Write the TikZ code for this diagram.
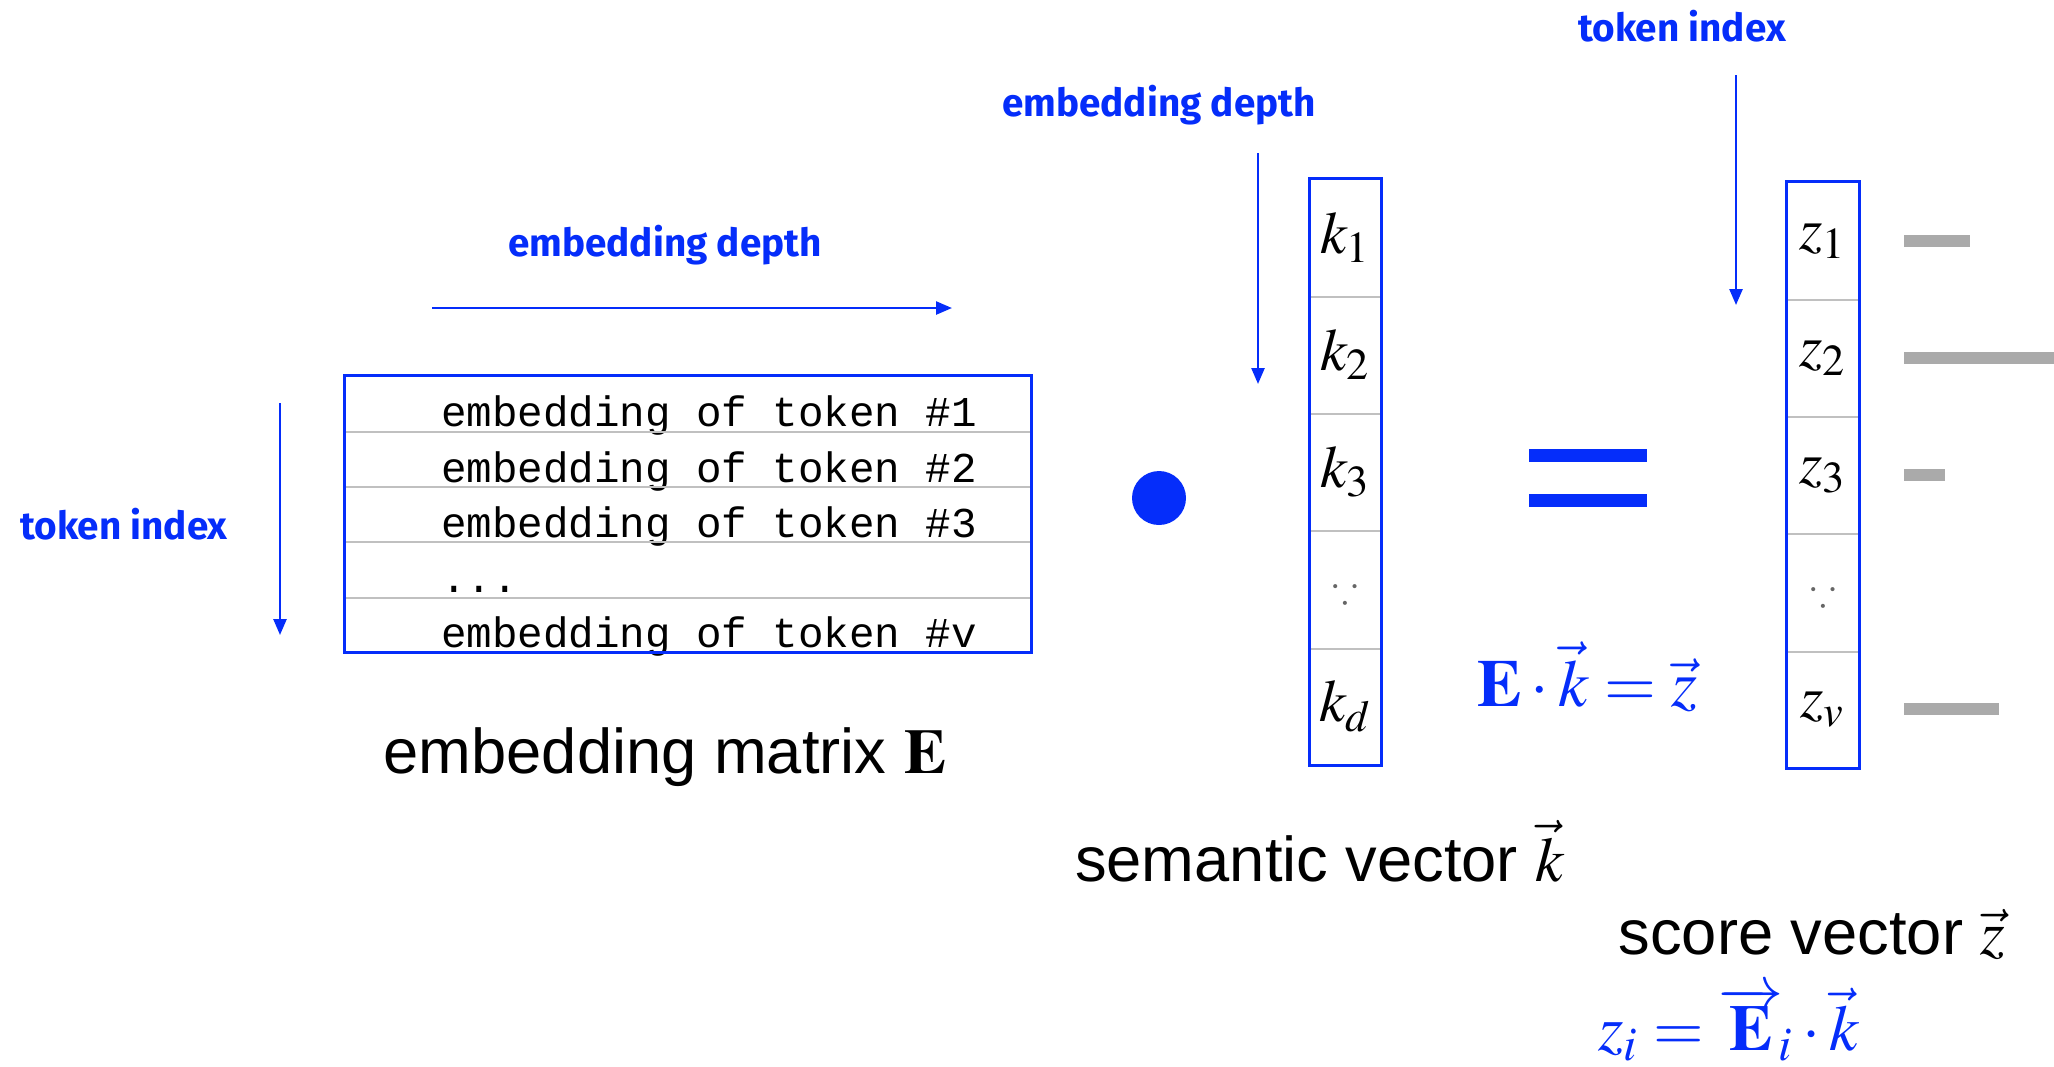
\documentclass[tikz,border=0pt]{standalone}
\usepackage{amssymb}
\usepackage{mathptmx}
\usepackage[no-math]{fontspec}
\setmainfont{Liberation Sans}
\newfontfamily\monofont{Liberation Mono}
\newfontfamily\handfont{Fira Sans}
\usetikzlibrary{arrows.meta, positioning, calc}
\definecolor{cBlue}{RGB}{5,45,250}
\definecolor{cBar}{RGB}{170,170,170}
\definecolor{cRule}{RGB}{192,192,192}
\newcommand{\mdots}{...}
\newcommand{\celldots}{{\color{black!60}\fontsize{11}{12}\selectfont$\because$}}
\tikzset{
	dirlabel/.style={font=\handfont\bfseries\fontsize{11}{13}\selectfont, text=cBlue, inner sep=0pt},
	dirarrow/.style={-{Triangle[length=1.6mm, width=1.3mm]}, draw=cBlue, line width=0.25mm},
	rowbox/.style={rectangle, minimum width=68.6mm, minimum height=5.52mm, inner sep=0pt},
	rowtext/.style={anchor=base west, font=\monofont\fontsize{12.1}{14}\selectfont, inner sep=0pt},
	cellbox/.style={rectangle, minimum width=7.1mm, minimum height=11.72mm, inner sep=0pt, font=\fontsize{17}{20}\selectfont},
	caption/.style={font=\fontsize{18}{22}\selectfont, inner sep=0pt},
	sepline/.style={draw=cRule, line width=0.2mm},
	outline/.style={draw=cBlue, line width=0.3mm},
	scorebar/.style={draw=cBar, line width=1.2mm},
}

\begin{document}
\begin{tikzpicture}[x=0.1mm, y=-0.1mm]
	\useasboundingbox (0,0) rectangle (2054,1066);
	% embedding matrix
	\foreach \i/\txt in {1/embedding of token \#1, 2/embedding of token \#2, 3/embedding of token \#3, 4/\mdots, 5/embedding of token \#v} {
		\node[rowbox] (row\i) at (688,{376+55.2*(\i-0.5)}) {};
		\node[rowtext] (txt\i) at ([xshift=9.6mm, yshift=0.5mm]row\i.south west) {\txt};
	}
	\foreach \i in {1,...,4}
		\draw[sepline] (row\i.south west) -- (row\i.south east);
	\draw[outline] (row1.north west) rectangle (row5.south east);
	\node[caption] (emat) at (665,757) {embedding matrix $\mathbf{E}$};
	% matrix axes
	\node[dirlabel] (depthA) at (665,245) {embedding depth};
	\coordinate (hd0) at (432,308);
	\coordinate (hd1) at (952,308);
	\draw[dirarrow] (hd0) -- (hd1);
	\node[dirlabel] (indexA) at (124,524) {token index};
	\coordinate (vd0) at (280,403);
	\coordinate (vd1) at (280,635);
	\draw[dirarrow] (vd0) -- (vd1);
	% dot product
	\node[circle, fill=cBlue, minimum size=5.4mm, inner sep=0pt] (dot) at (1159,498) {};
	% semantic vector
	\foreach \i/\ent in {1/$k_1$, 2/$k_2$, 3/$k_3$, 4/\celldots, 5/$k_d$}
		\node[cellbox] (k\i) at (1345.5,{179+117.2*(\i-0.5)}) {\ent};
	\foreach \i in {1,...,4}
		\draw[sepline] (k\i.south west) -- (k\i.south east);
	\draw[outline] (k1.north west) rectangle (k5.south east);
	\node[dirlabel] (depthB) at (1159,105) {embedding depth};
	\coordinate (kd0) at (1258,153);
	\coordinate (kd1) at (1258,384);
	\draw[dirarrow] (kd0) -- (kd1);
	\node[caption] (svec) at (1320,851) {semantic vector $\vec{k}$};
	% equals
	\fill[cBlue] (1529,449) rectangle (1647,462);
	\fill[cBlue] (1529,494) rectangle (1647,507);
	\node[text=cBlue, font=\fontsize{19}{22}\selectfont, inner sep=0pt] (eqn) at (1587,677) {$\mathbf{E}\cdot\vec{k}=\vec{z}$};
	% score vector
	\foreach \i/\ent in {1/$z_1$, 2/$z_2$, 3/$z_3$, 4/\celldots, 5/$z_v$}
		\node[cellbox] (z\i) at (1823,{182+117.2*(\i-0.5)}) {\ent};
	\foreach \i in {1,...,4}
		\draw[sepline] (z\i.south west) -- (z\i.south east);
	\draw[outline] (z1.north west) rectangle (z5.south east);
	\node[dirlabel] (indexB) at (1682,26) {token index};
	\coordinate (zd0) at (1736,75);
	\coordinate (zd1) at (1736,305);
	\draw[dirarrow] (zd0) -- (zd1);
	\draw[scorebar] ([xshift=4.5mm]z1.east) -- ++(66,0);
	\draw[scorebar] ([xshift=4.5mm]z2.east) -- ++(150,0);
	\draw[scorebar] ([xshift=4.5mm]z3.east) -- ++(41,0);
	\draw[scorebar] ([xshift=4.5mm]z5.east) -- ++(95,0);
	\node[caption] (zvec) at (1812,934) {score vector $\vec{z}$};
	\node[text=cBlue, font=\fontsize{18.5}{22}\selectfont, inner sep=0pt] (zeqn) at (1729,1024) {$z_i=\overrightarrow{\mathbf{E}}_{\!i}\cdot\vec{k}$};
\end{tikzpicture}
\end{document}
